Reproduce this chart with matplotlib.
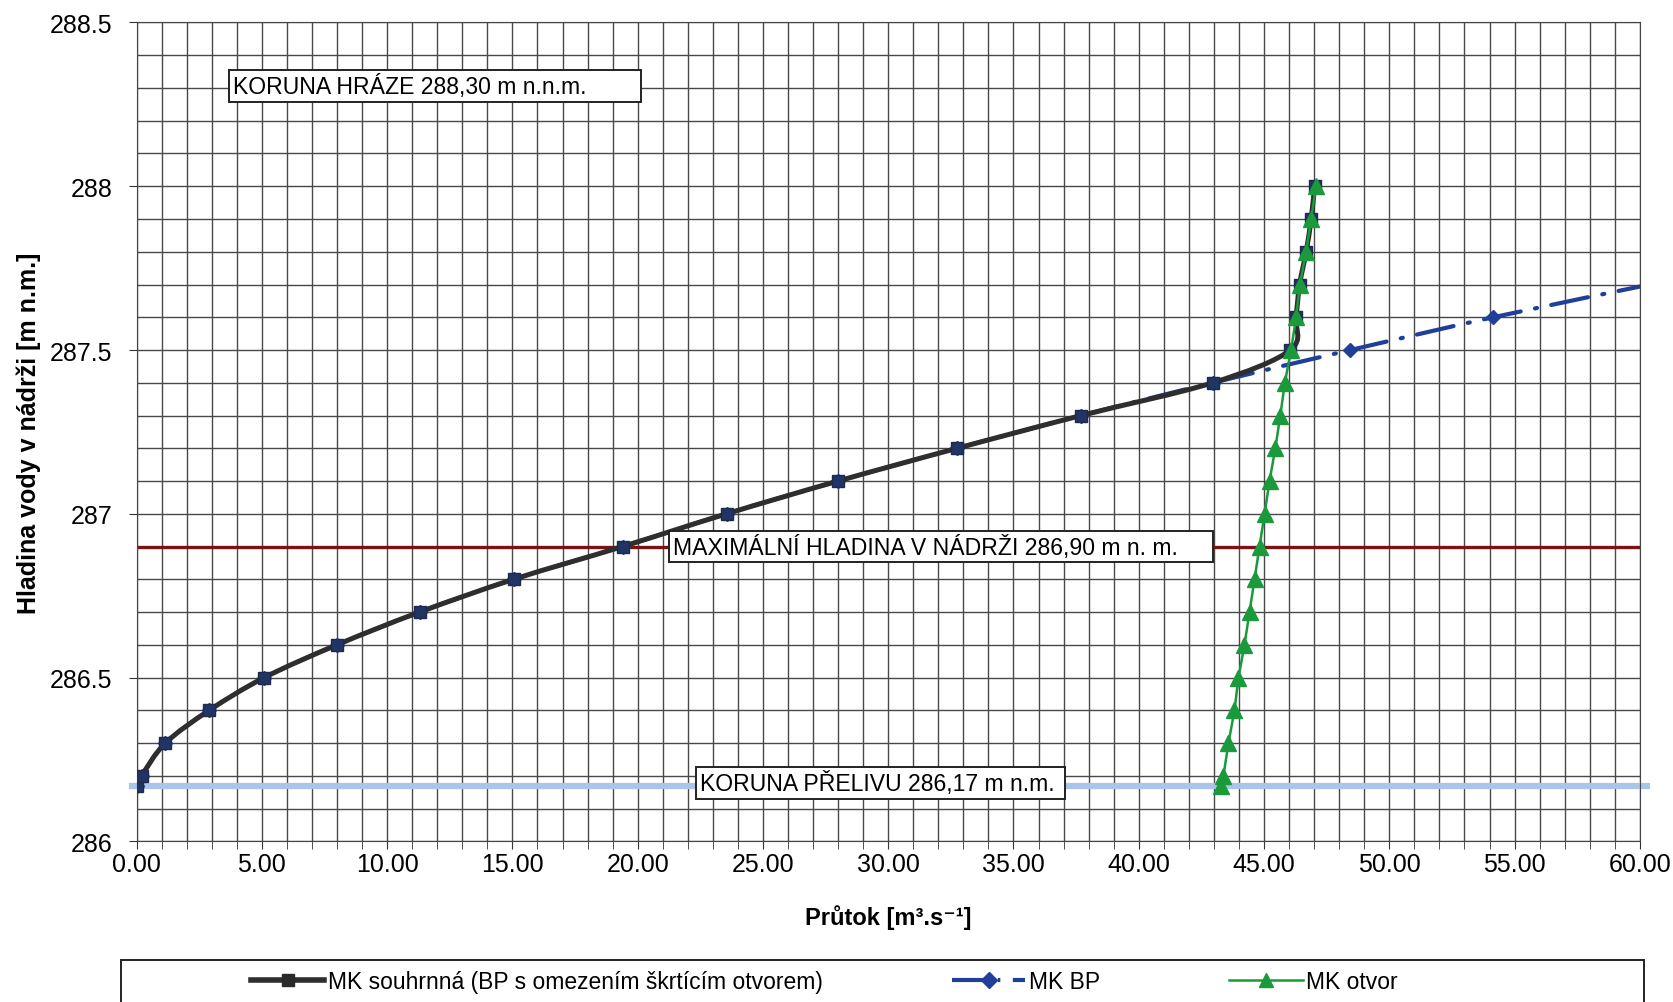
import matplotlib
matplotlib.use("Agg")
import matplotlib.pyplot as plt
from matplotlib.ticker import MultipleLocator, FormatStrFormatter
from matplotlib.path import Path
from matplotlib.patches import PathPatch, Rectangle
from matplotlib.lines import Line2D

# MK souhrnna (BP s omezenim skrticim otvorem)
sum_q = [0.0, 0.2, 1.15, 2.9, 5.1, 8.0, 11.3, 15.05, 19.4, 23.55, 28.0, 32.75, 37.7, 42.95,
         46.05, 46.27, 46.42, 46.68, 46.88, 47.02]
sum_h = [286.17, 286.2, 286.3, 286.4, 286.5, 286.6, 286.7, 286.8, 286.9, 287.0, 287.1, 287.2,
         287.3, 287.4, 287.5, 287.6, 287.7, 287.8, 287.9, 288.0]

# MK BP
bp_q = [0.0, 0.2, 1.15, 2.9, 5.1, 8.0, 11.3, 15.05, 19.4, 23.55, 28.0, 32.75, 37.7, 42.95,
        48.45, 54.15, 60.4]
bp_h = [286.17, 286.2, 286.3, 286.4, 286.5, 286.6, 286.7, 286.8, 286.9, 287.0, 287.1, 287.2,
        287.3, 287.4, 287.5, 287.6, 287.7]

# MK otvor
ot_q = [43.3, 43.38, 43.58, 43.82, 43.98, 44.22, 44.42, 44.62, 44.82, 45.02, 45.22, 45.45,
        45.65, 45.83, 46.08, 46.28, 46.43, 46.68, 46.88, 47.07]
ot_h = [286.17, 286.2, 286.3, 286.4, 286.5, 286.6, 286.7, 286.8, 286.9, 287.0, 287.1, 287.2,
        287.3, 287.4, 287.5, 287.6, 287.7, 287.8, 287.9, 288.0]

levels = {"koruna_hraze": 288.30, "max_hladina": 286.90, "koruna_prelivu": 286.17}


def smooth_path(xs, ys):
    # excel-like smoothed line (catmull-rom as cubic bezier)
    verts = [(xs[0], ys[0])]
    codes = [Path.MOVETO]
    n = len(xs)
    for i in range(n - 1):
        a = max(i - 1, 0)
        b = min(i + 2, n - 1)
        c1 = (xs[i] + (xs[i + 1] - xs[a]) / 6, ys[i] + (ys[i + 1] - ys[a]) / 6)
        c2 = (xs[i + 1] - (xs[b] - xs[i]) / 6, ys[i + 1] - (ys[b] - ys[i]) / 6)
        verts += [c1, c2, (xs[i + 1], ys[i + 1])]
        codes += [Path.CURVE4] * 3
    return Path(verts, codes)


plt.rcParams['font.family'] = ['Liberation Sans', 'DejaVu Sans']

fig = plt.figure(figsize=(16.74, 10.03), dpi=100)
ax = fig.add_axes([0.0816, 0.1602, 0.898, 0.8164])

ax.set_xlim(0, 60)
ax.set_ylim(286, 288.5)
ax.xaxis.set_major_locator(MultipleLocator(5))
ax.xaxis.set_minor_locator(MultipleLocator(1))
ax.yaxis.set_major_locator(MultipleLocator(0.5))
ax.yaxis.set_minor_locator(MultipleLocator(0.1))
ax.xaxis.set_major_formatter(FormatStrFormatter('%.2f'))
ax.yaxis.set_major_formatter(lambda v, p: f"{v:g}")
ax.grid(True, which='both', color='#484848', lw=1.0)
ax.set_axisbelow(True)
ax.tick_params(labelsize=18, length=5.5, color='#333333')
ax.tick_params(axis='x', pad=2.5)
ax.tick_params(axis='y', pad=12)
ax.tick_params(which='minor', length=5.5, color='#333333')
ax.tick_params(axis='y', which='minor', length=0)
for s in ax.spines.values():
    s.set_color('#444444')

# reference levels
ax.axhline(levels["max_hladina"], color='#7a1414', lw=2.4, zorder=2)
ax.plot([-0.2, 60.3], [levels["koruna_prelivu"]] * 2, color='#a9c5ea', lw=4.5,
        zorder=2, clip_on=False)

bp_col = '#1f3f99'
ax.add_patch(PathPatch(smooth_path(bp_q, bp_h), fill=False, ec=bp_col, lw=3,
                       linestyle=(0, (9, 3.5, 0.5, 3.5)), capstyle='round', zorder=3))
ax.plot(bp_q, bp_h, ls='none', marker='D', ms=7.5, mfc=bp_col, mec=bp_col, zorder=3)

sum_col = '#2e2e2e'
ax.add_patch(PathPatch(smooth_path(sum_q, sum_h), fill=False, ec=sum_col, lw=3.6, zorder=4))
ax.plot(sum_q, sum_h, ls='none', marker='s', ms=9, mfc='#223463', mec='#1c2a50', zorder=4)

ot_col = '#1b9a3c'
ax.plot(ot_q, ot_h, color=ot_col, lw=1.8, marker='^', ms=11, mfc=ot_col, mec=ot_col,
        zorder=5)

# text boxes (trailing spaces give the wider right margin of the original boxes)
box = dict(boxstyle='square,pad=0.17', fc='white', ec='#222222', lw=1.4)
ax.text(3.85, 288.305, 'KORUNA HRÁZE 288,30 m n.n.m.' + ' ' * 8, fontsize=16.6,
        va='center', ha='left', bbox=box, zorder=6)
ax.text(21.4, 286.90, 'MAXIMÁLNÍ HLADINA V NÁDRŽI 286,90 m n. m.' + ' ' * 5,
        fontsize=16.6, va='center', ha='left', bbox=box, zorder=6)
ax.text(22.48, 286.178, 'KORUNA PŘELIVU 286,17 m n.m. ', fontsize=16.6,
        va='center', ha='left', bbox=box, zorder=6)

ax.set_xlabel('Průtok [m³.s⁻¹]', fontsize=17, fontweight='bold', labelpad=20)
ax.set_ylabel('Hladina vody v nádrži [m n.m.]', fontsize=18, fontweight='bold', labelpad=6)

# legend
fig.patches.append(Rectangle((0.0722, -0.05), 0.9099, 0.0917, transform=fig.transFigure,
                             fc='white', ec='#222222', lw=1.4))
handles = [
    Line2D([], [], color=sum_col, lw=4, marker='s', ms=9, mfc='#2a2a2a', mec='#2a2a2a'),
    Line2D([], [], color=bp_col, lw=3, dashes=(8, 3, 0.6, 3), marker='D', ms=8,
           mfc=bp_col, mec=bp_col),
    Line2D([], [], color=ot_col, lw=1.8, marker='^', ms=10, mfc=ot_col, mec=ot_col),
]
labels = ['MK souhrnná (BP s omezením škrtícím otvorem)', 'MK BP', 'MK otvor']
fig.legend(handles, labels, loc='center', ncol=3, bbox_to_anchor=(0.4925, 0.02),
           fontsize=16.5, frameon=False, columnspacing=5.65, handlelength=3.2,
           handletextpad=0.15)

fig.savefig('out.png', dpi=100)
